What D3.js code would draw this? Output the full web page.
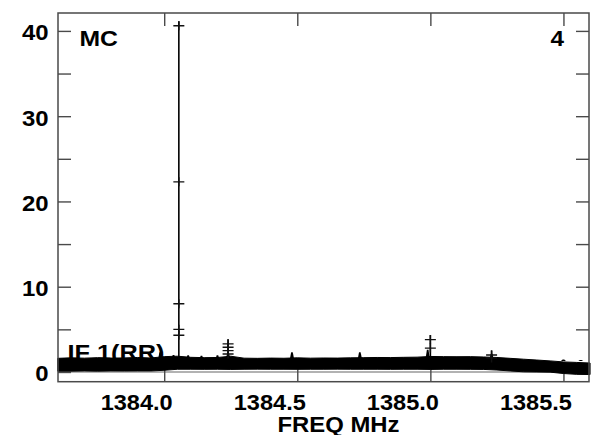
<!DOCTYPE html>
<html>
<head>
<meta charset="utf-8">
<script src="https://cdn.jsdelivr.net/npm/d3@7"></script>
<style>
  html, body { margin: 0; padding: 0; background: #fff; }
  svg { display: block; }
  text { font-family: "Liberation Sans", Arial, Helvetica, sans-serif; font-weight: bold; fill: #000; }
</style>
</head>
<body>
<div id="chart"></div>
<script>
// ---- data ----
const yTickValues = [0, 5, 10, 15, 20, 25, 30, 35, 40];
const yTickLabels = [0, 10, 20, 30, 40];
const xTickValues = [1384.0, 1384.5, 1385.0, 1385.5];
const xTickLabels = ["1384.0", "1384.5", "1385.0", "1385.5"];

// envelope of the dense band of channel amplitudes
const bandFreq = [1383.60, 1383.65, 1383.70, 1383.75, 1383.80, 1383.85, 1383.90, 1383.95, 1384.00, 1384.05,
                  1384.10, 1384.15, 1384.20, 1384.25, 1384.30, 1384.35, 1384.40, 1384.45, 1384.50, 1384.55,
                  1384.60, 1384.65, 1384.70, 1384.75, 1384.80, 1384.85, 1384.90, 1384.95, 1385.00, 1385.05,
                  1385.10, 1385.15, 1385.20, 1385.25, 1385.30, 1385.35, 1385.40, 1385.45, 1385.50, 1385.55, 1385.60];
const bandHigh = [1.60, 1.66, 1.62, 1.68, 1.63, 1.65, 1.70, 1.64, 1.80, 1.85,
                  1.72, 1.68, 1.70, 1.85, 1.62, 1.60, 1.63, 1.61, 1.66, 1.62,
                  1.64, 1.63, 1.66, 1.68, 1.70, 1.69, 1.72, 1.74, 1.82, 1.80,
                  1.79, 1.80, 1.76, 1.70, 1.60, 1.50, 1.40, 1.30, 1.18, 1.12, 1.05];
const bandLow  = [0.10, 0.10, 0.12, 0.10, 0.12, 0.11, 0.12, 0.12, 0.20, 0.32,
                  0.32, 0.31, 0.32, 0.30, 0.32, 0.33, 0.32, 0.32, 0.31, 0.32,
                  0.32, 0.33, 0.32, 0.32, 0.32, 0.31, 0.32, 0.32, 0.30, 0.32,
                  0.32, 0.31, 0.30, 0.23, 0.12, 0.02, 0.00, -0.02, -0.18, -0.28, -0.30];

// narrow bumps rising above the band
const bumpFreq = [1383.985, 1384.035, 1384.09, 1384.14, 1384.20, 1384.24, 1384.48, 1384.735, 1384.99, 1385.23, 1385.50, 1385.565];
const bumpHigh = [2.30, 2.00, 1.95, 1.90, 1.95, 2.30, 2.30, 2.30, 2.60, 2.10, 1.45, 1.40];

// channels with isolated high points (plotted as + markers)
const spikeFreq = [1384.055, 1384.24, 1385.0, 1385.23];
const spikeVals = [
  [40.6, 22.3, 8.0, 5.0, 4.3],
  [3.3, 2.9, 2.5, 2.1],
  [3.8, 2.8],
  [2.0, 1.65]
];

// ---- drawing ----
const W = 591, H = 435;
const FS = 22.5;
const svg = d3.select("#chart").append("svg").attr("width", W).attr("height", H);

const x = d3.scaleLinear().domain([1383.601, 1385.596]).range([58, 589]);
const y = d3.scaleLinear().domain([-1.14, 42.1]).range([381.7, 13]);

const frameColor = "#4a4a4a";

function label(txt, px, py, len, anchor) {
  return svg.append("text")
    .attr("x", px).attr("y", py)
    .attr("font-size", FS)
    .attr("text-anchor", anchor || "start")
    .attr("textLength", len).attr("lengthAdjust", "spacingAndGlyphs")
    .text(txt);
}

// label that sits under the data
label("IF 1(RR)", 67.5, 359.5, 97);

// zero line
svg.append("line")
  .attr("x1", x.range()[0]).attr("x2", x.range()[1])
  .attr("y1", y(0)).attr("y2", y(0))
  .attr("stroke", "#666").attr("stroke-width", 1.2);

// axes (ticks inward)
function styleAxis(g) {
  g.selectAll("path.domain").remove();
  g.selectAll(".tick line").attr("stroke", frameColor).attr("stroke-width", 1.4);
  g.selectAll(".tick text").remove();
}
svg.append("g").attr("transform", `translate(${x.range()[0]},0)`)
  .call(d3.axisLeft(y).tickValues(yTickValues).tickSize(-13)).call(styleAxis);
svg.append("g").attr("transform", `translate(${x.range()[1]},0)`)
  .call(d3.axisRight(y).tickValues(yTickValues).tickSize(-13)).call(styleAxis);
svg.append("g").attr("transform", `translate(0,${y.range()[1]})`)
  .call(d3.axisTop(x).tickValues(xTickValues).tickSize(-13)).call(styleAxis);
svg.append("g").attr("transform", `translate(0,${y.range()[0]})`)
  .call(d3.axisBottom(x).tickValues(xTickValues).tickSize(-13)).call(styleAxis);

// data band
const bandData = bandFreq.map((f, i) => ({ f, lo: bandLow[i], hi: bandHigh[i] }));
svg.append("path")
  .datum(bandData)
  .attr("d", d3.area().x(d => x(d.f)).y0(d => y(d.lo)).y1(d => y(d.hi)))
  .attr("fill", "#000").attr("stroke", "#000").attr("stroke-width", 1);

// narrow bumps
svg.append("g").selectAll("path")
  .data(bumpFreq.map((f, i) => ({ f, hi: bumpHigh[i] })))
  .join("path")
  .attr("d", d => `M${x(d.f) - 2.5},${y(1.3)} L${x(d.f) - 0.8},${y(d.hi)} L${x(d.f) + 0.8},${y(d.hi)} L${x(d.f) + 2.5},${y(1.3)} Z`)
  .attr("fill", "#000");

// spikes: vertical connecting line + "+" markers
const spikeG = svg.append("g");
spikeFreq.forEach((f, i) => {
  const vals = spikeVals[i];
  const top = d3.max(vals);
  spikeG.append("line")
    .attr("x1", x(f)).attr("x2", x(f))
    .attr("y1", y(1.4)).attr("y2", y(top) - 4.5)
    .attr("stroke", "#000").attr("stroke-width", 1.6);
  spikeG.selectAll(null)
    .data(vals)
    .join("path")
    .attr("d", v => `M${x(f) - 5.5},${y(v)} H${x(f) + 5.5} M${x(f)},${y(v) - 4.5} V${y(v) + 4.5}`)
    .attr("stroke", "#111").attr("stroke-width", 1.4).attr("fill", "none");
});

// frame
svg.append("rect")
  .attr("x", x.range()[0]).attr("y", y.range()[1])
  .attr("width", x.range()[1] - x.range()[0]).attr("height", y.range()[0] - y.range()[1])
  .attr("fill", "none").attr("stroke", frameColor).attr("stroke-width", 1.5);

// tick labels
yTickLabels.forEach(v => {
  const s = String(v);
  label(s, 48.5, y(v) + 9.5, s.length * 13.3, "end");
});
xTickValues.forEach((v, i) => {
  label(xTickLabels[i], x(v) + 8.5, 409.5, 72, "end");
});

// titles
label("MC", 79.5, 45.7, 38.5);
label("4", 564, 45.5, 13.5, "end");
label("FREQ MHz", 277.5, 431.5, 122);
</script>
</body>
</html>
